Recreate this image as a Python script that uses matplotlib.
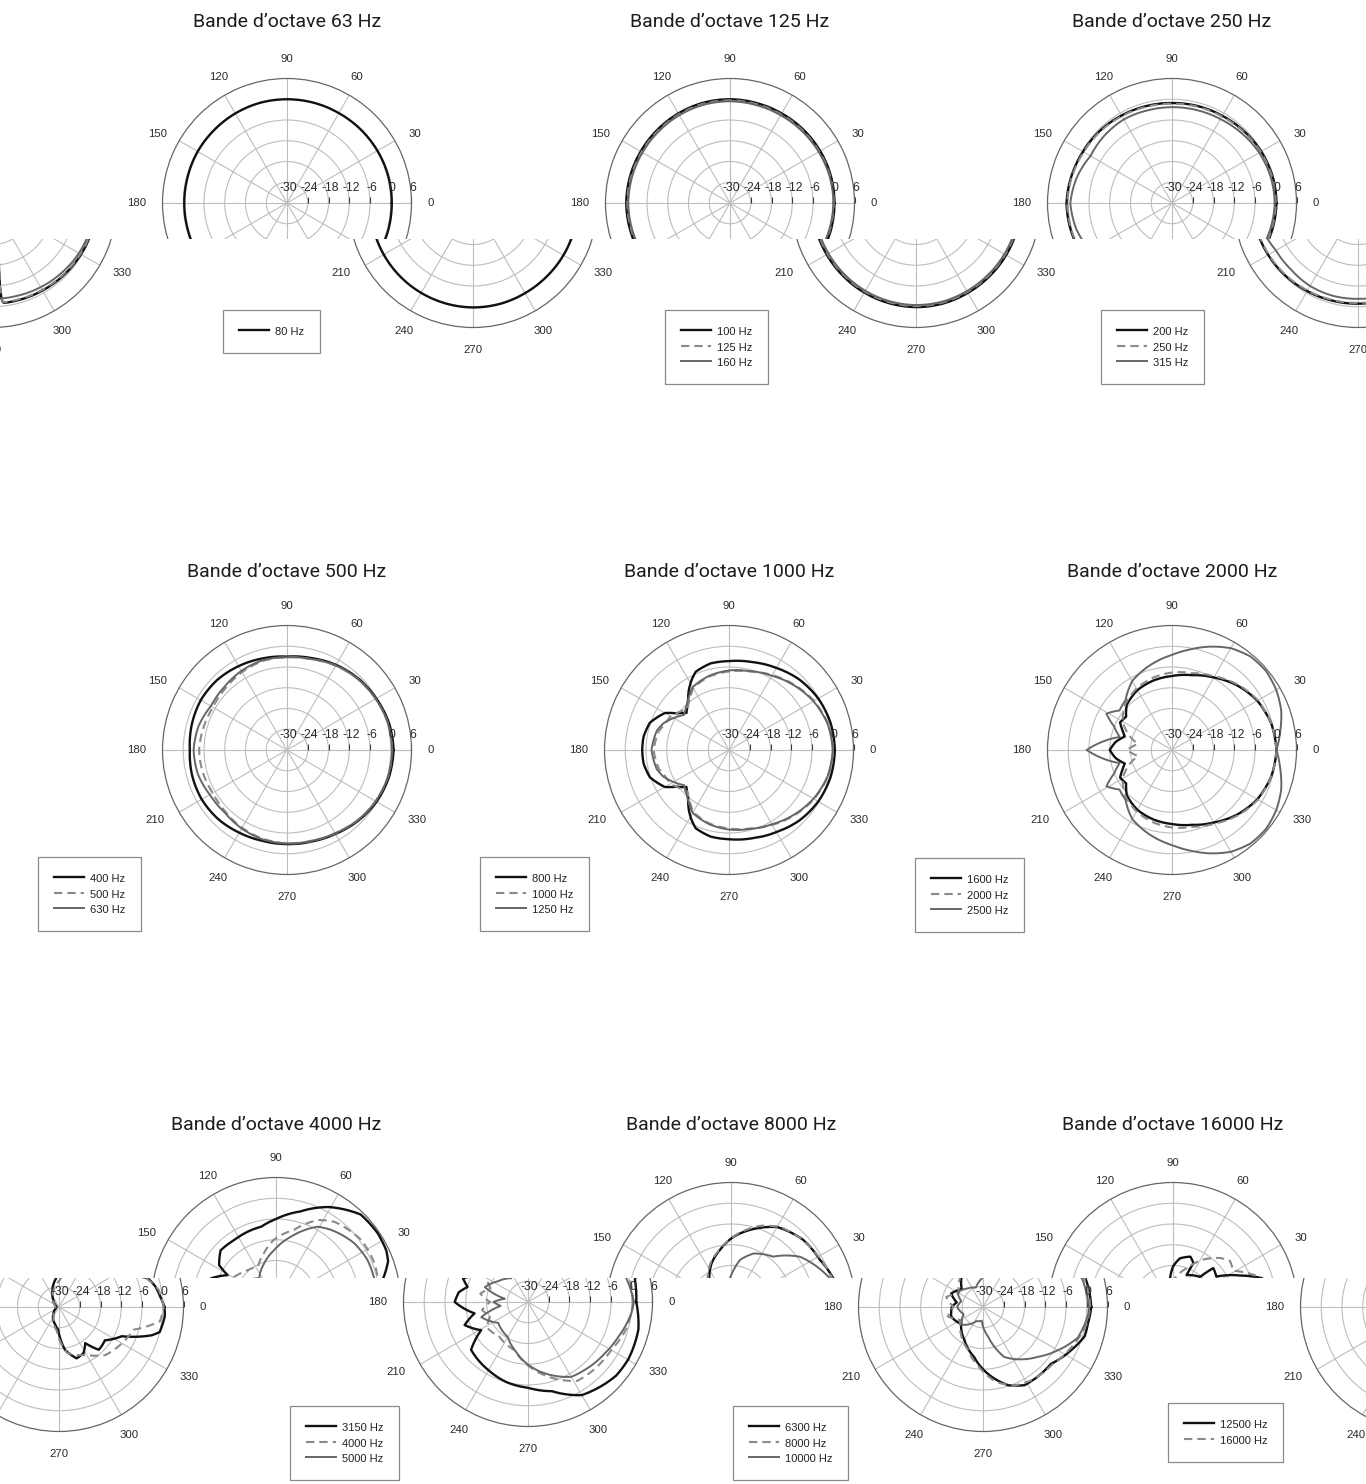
import numpy as np
import matplotlib
matplotlib.use("Agg")
import matplotlib.pyplot as plt
from matplotlib.transforms import Bbox, TransformedBbox

# ---- directivity data: angle (deg) -> level (dB) ----
ang15 = list(range(0, 361, 15))

# octave 63 Hz
f80 = [0.3, 0.3, 0.2, 0.1, 0.0, 0.0, 0.0, 0.0, -0.1, -0.2, -0.2, -0.3, -0.3,
       -0.3, -0.2, -0.1, 0.0, 0.1, 0.2, 0.2, 0.1, 0.1, 0.2, 0.3, 0.3]

# octave 125 Hz
f100 = [0.2, 0.2, 0.1, 0.0, -0.1, -0.1, 0.0, 0.0, -0.1, -0.2, -0.2, -0.1, 0.0,
        -0.1, -0.2, -0.2, -0.1, 0.0, 0.1, 0.1, 0.0, 0.0, 0.1, 0.2, 0.2]
f125 = [0.0, 0.0, -0.2, -0.3, -0.4, -0.4, -0.3, -0.3, -0.4, -0.5, -0.5, -0.4, -0.3,
        -0.4, -0.5, -0.5, -0.4, -0.3, -0.2, -0.2, -0.3, -0.3, -0.2, -0.1, 0.0]
f160 = [-0.1, -0.2, -0.4, -0.6, -0.7, -0.7, -0.6, -0.6, -0.7, -0.8, -0.8, -0.7, -0.6,
        -0.7, -0.8, -0.8, -0.7, -0.6, -0.5, -0.5, -0.6, -0.6, -0.5, -0.3, -0.1]

# octave 250 Hz
f200 = [0.2, 0.1, -0.2, -0.6, -0.9, -1.0, -1.1, -1.0, -0.8, -0.5, -0.3, 0.1, 0.5,
        0.3, 0.0, -0.3, -0.6, -0.8, -0.9, -0.9, -0.8, -0.6, -0.3, 0.0, 0.2]
f250 = [0.0, -0.1, -0.4, -0.8, -1.1, -1.2, -1.3, -1.2, -1.0, -0.7, -0.5, -0.1, 0.3,
        0.1, -0.2, -0.5, -0.8, -1.0, -1.1, -1.1, -1.0, -0.8, -0.5, -0.2, 0.0]
f315 = [-0.3, -0.5, -0.9, -1.5, -2.0, -2.2, -2.3, -2.3, -2.1, -2.4, -2.8, -1.5, -0.6,
        -1.3, -2.6, -2.7, -2.3, -2.2, -2.3, -2.2, -1.9, -1.5, -1.0, -0.6, -0.3]

# octave 500 Hz
f400 = [0.8, 0.5, -0.2, -0.8, -1.6, -2.5, -3.0, -2.6, -2.0, -1.4, -1.2, -1.5, -1.9,
        -1.6, -1.5, -1.8, -2.4, -2.8, -2.8, -2.6, -2.0, -1.0, -0.1, 0.5, 0.8]
f500 = [0.4, 0.2, -0.4, -1.0, -1.8, -2.8, -3.2, -3.3, -4.0, -4.8, -5.3, -5.0, -4.6,
        -4.8, -5.2, -4.8, -4.0, -3.4, -3.0, -2.8, -2.2, -1.2, -0.4, 0.2, 0.4]
f630 = [0.4, 0.2, -0.4, -1.0, -1.8, -2.8, -3.2, -3.1, -3.6, -4.3, -4.6, -3.5, -3.0,
        -3.3, -4.2, -4.5, -3.8, -3.2, -3.0, -2.8, -2.2, -1.2, -0.4, 0.2, 0.4]

# octave 1000 Hz
a800 = [0, 15, 30, 45, 60, 75, 90, 102, 113, 118, 124, 131, 139, 145, 150, 161, 171,
        180, 189, 199, 210, 215, 221, 229, 236, 242, 247, 258, 270, 285, 300, 315,
        330, 345, 360]
f800 = [0.6, 0.4, -0.2, -1.2, -2.6, -3.7, -4.3, -4.4, -5.4, -7.0, -9.2, -12.0, -13.7,
        -11.5, -8.6, -5.8, -5.0, -4.9, -5.0, -5.8, -8.6, -11.5, -13.7, -12.0, -9.2,
        -7.0, -5.4, -4.4, -4.2, -3.6, -2.6, -1.2, -0.2, 0.4, 0.6]
a1000 = [0, 15, 30, 45, 60, 75, 90, 105, 120, 128, 135, 142, 150, 158, 165, 180, 195,
         202, 210, 218, 225, 232, 240, 255, 270, 285, 300, 315, 330, 345, 360]
f1000 = [0.1, -0.4, -1.6, -3.3, -5.0, -6.5, -7.3, -8.0, -9.3, -11.5, -13.0, -12.0,
         -10.5, -10.0, -9.0, -8.2, -9.0, -10.0, -10.5, -12.0, -13.0, -11.5, -9.3, -8.0,
         -7.3, -6.5, -5.0, -3.3, -1.6, -0.4, 0.1]
f1250 = [0.0, -0.5, -1.8, -3.5, -5.2, -6.4, -7.0, -7.8, -9.0, -11.0, -12.5, -13.5,
         -11.5, -9.5, -8.4, -7.6, -8.4, -9.5, -11.5, -13.5, -12.5, -11.0, -9.0, -7.8,
         -7.0, -6.4, -5.2, -3.5, -1.8, -0.5, 0.0]

# octave 2000 Hz
a1600 = [0, 15, 30, 45, 60, 75, 90, 105, 120, 135, 144, 152, 158, 164, 172, 180, 188,
         196, 202, 208, 216, 225, 240, 255, 270, 285, 300, 315, 330, 345, 360]
f1600 = [0.2, -0.3, -1.5, -3.5, -5.8, -7.6, -8.6, -9.2, -10.0, -11.5, -13.6, -13.0,
         -14.5, -15.8, -13.5, -12.0, -13.5, -15.8, -14.5, -13.0, -13.6, -11.5, -10.0,
         -9.2, -8.6, -7.6, -5.8, -3.5, -1.5, -0.3, 0.2]
a2000 = [0, 15, 30, 45, 60, 75, 90, 105, 120, 135, 150, 160, 170, 180, 190, 200, 210,
         225, 240, 255, 270, 285, 300, 315, 330, 345, 360]
f2000 = [0.2, -0.3, -1.3, -3.2, -5.4, -7.0, -7.6, -8.4, -9.5, -11.0, -13.5, -16.5,
         -20.0, -17.0, -20.0, -16.5, -13.5, -11.0, -9.5, -8.4, -7.6, -7.0, -5.4, -3.2,
         -1.3, -0.3, 0.2]
a2500 = [0, 10, 20, 30, 40, 50, 60, 70, 80, 90, 100, 110, 120, 133, 143, 151, 158, 166,
         180, 194, 202, 209, 217, 227, 240, 250, 260, 270, 280, 290, 300, 310, 320, 330,
         340, 350, 360]
f2500 = [0.2, 1.8, 3.6, 4.8, 5.5, 5.3, 4.0, 1.8, -0.5, -2.5, -4.0, -5.5, -7.0, -10.3,
         -11.0, -8.3, -12.0, -14.4, -5.3, -14.4, -12.0, -8.3, -11.0, -10.3, -7.0, -5.5,
         -4.0, -2.5, -0.5, 1.8, 4.0, 5.3, 5.5, 4.8, 3.6, 1.8, 0.2]

# octave 4000 Hz
a3150 = [0, 12, 20, 25, 34, 46, 61, 75, 90, 101, 124, 137, 147, 151, 160, 166, 172,
         180, 186, 192, 200, 206, 211, 220, 240, 255, 270, 285, 300, 320, 330, 346, 360]
f3150 = [1.3, 1.6, 4.5, 5.2, 5.5, 5.2, 1.4, -2.9, -6.0, -7.8, -8.4, -8.1, -10.4, -14.0,
         -10.0, -12.0, -9.8, -8.8, -11.5, -14.2, -10.5, -12.5, -14.2, -8.5, -7.2, -6.0,
         -5.2, -3.3, 1.1, 3.2, 3.4, 2.9, 1.3]
a4000 = [0, 13, 21, 36, 54, 63, 76, 92, 104, 117, 135, 149, 160, 170, 180, 190, 200,
         212, 230, 255, 276, 302, 330, 345, 360]
f4000 = [0.4, 0.2, 0.6, 0.5, -1.3, -3.4, -8.5, -12.0, -15.5, -18.5, -17.5, -15.9, -18.5,
         -16.0, -19.0, -16.5, -18.4, -16.0, -17.0, -15.5, -10.1, -3.1, -2.2, -0.5, 0.4]
a5000 = [0, 14, 25, 37, 53, 61, 77, 92, 107, 125, 145, 161, 172, 180, 188, 198, 215,
         240, 255, 278, 300, 310, 326, 339, 354, 360]
f5000 = [0.6, -0.8, -0.9, -1.7, -3.8, -5.1, -10.6, -15.0, -18.3, -21.6, -19.5, -16.8,
         -23.2, -20.0, -22.0, -15.8, -19.5, -18.3, -15.5, -10.0, -5.0, -4.4, -3.3, -2.0,
         0.1, 0.6]

# octave 8000 Hz
a6300 = [0, 15, 28, 43, 60, 72, 88, 101, 114, 127, 140, 157, 170, 180, 197, 218, 241,
         260, 277, 288, 298, 320, 334, 344, 351, 360]
f6300 = [1.3, 0.8, -0.9, -1.5, -3.3, -6.1, -9.7, -13.2, -16.2, -19.6, -22.0, -20.0,
         -22.3, -21.0, -20.4, -22.0, -19.0, -15.3, -9.7, -6.2, -4.4, -4.4, -1.6, 0.6,
         0.7, 1.3]
a8000 = [0, 15, 30, 45, 58, 70, 85, 100, 115, 130, 150, 165, 180, 195, 210, 230, 250,
         265, 280, 292, 305, 320, 335, 350, 360]
f8000 = [1.0, 0.5, -0.8, -1.8, -2.8, -5.0, -8.8, -12.8, -16.0, -19.5, -22.0, -19.0,
         -21.5, -19.5, -22.5, -20.0, -17.0, -13.0, -8.0, -5.5, -4.5, -4.0, -2.0, 0.3, 1.0]
a10000 = [0, 16, 36, 50, 67, 79, 86, 92, 110, 130, 150, 165, 180, 200, 220, 245, 265,
          280, 293, 299, 318, 330, 342, 356, 360]
f10000 = [0.6, -0.2, -5.3, -11.0, -13.2, -16.1, -19.3, -21.7, -24.0, -23.0, -21.5, -23.5,
          -22.5, -24.0, -22.0, -25.5, -26.0, -21.2, -14.3, -12.9, -8.5, -5.0, -1.2, 0.5,
          0.6]

# octave 16000 Hz
a12500 = [0, 6, 12, 18, 25, 35, 44, 48, 67, 65, 71, 82, 90, 96, 105, 115, 130, 150, 170,
          180, 190, 210, 230, 245, 258, 268, 278, 289, 298, 306, 313, 318, 324, 335, 343,
          346, 355, 360]
f12500 = [0.5, -0.6, -1.5, -3.0, -8.5, -14.7, -13.8, -18.3, -20.0, -16.0, -14.6, -15.8,
          -18.3, -21.7, -23.5, -25.5, -27.5, -28.8, -29.3, -29.3, -29.2, -28.8, -27.5,
          -26.0, -24.8, -23.4, -17.5, -14.3, -14.9, -17.1, -13.1, -13.3, -13.6, -10.0,
          -2.0, 0.0, 0.7, 0.5]
a16000 = [0, 10, 20, 31, 39, 46, 57, 70, 90, 120, 150, 180, 210, 240, 265, 280, 300,
          314, 330, 343, 352, 360]
f16000 = [0.3, -0.8, -4.0, -9.7, -8.8, -10.3, -13.6, -18.0, -22.5, -26.5, -28.5, -29.0,
          -28.5, -27.0, -23.0, -16.5, -14.0, -10.7, -9.0, -7.5, -0.5, 0.3]

titles = ["Bande d\u2019octave 63 Hz", "Bande d\u2019octave 125 Hz", "Bande d\u2019octave 250 Hz",
          "Bande d\u2019octave 500 Hz", "Bande d\u2019octave 1000 Hz", "Bande d\u2019octave 2000 Hz",
          "Bande d\u2019octave 4000 Hz", "Bande d\u2019octave 8000 Hz", "Bande d\u2019octave 16000 Hz"]

theta_ticks = list(range(0, 360, 30))
rings = [-24, -18, -12, -6, 0]
r_labels = [-30, -24, -18, -12, -6, 0, 6]

# ---- styles ----
BLACK = dict(color='#111111', lw=1.7, ls='-')
DASH = dict(color='#8a8a8a', lw=1.5, ls=(0, (4, 2.4)))
GREY = dict(color='#666666', lw=1.4, ls='-')

series = [
    [("80 Hz", ang15, f80, BLACK)],
    [("100 Hz", ang15, f100, BLACK), ("125 Hz", ang15, f125, DASH), ("160 Hz", ang15, f160, GREY)],
    [("200 Hz", ang15, f200, BLACK), ("250 Hz", ang15, f250, DASH), ("315 Hz", ang15, f315, GREY)],
    [("400 Hz", ang15, f400, BLACK), ("500 Hz", ang15, f500, DASH), ("630 Hz", ang15, f630, GREY)],
    [("800 Hz", a800, f800, BLACK), ("1000 Hz", a1000, f1000, DASH), ("1250 Hz", a1000, f1250, GREY)],
    [("1600 Hz", a1600, f1600, BLACK), ("2000 Hz", a2000, f2000, DASH), ("2500 Hz", a2500, f2500, GREY)],
    [("3150 Hz", a3150, f3150, BLACK), ("4000 Hz", a4000, f4000, DASH), ("5000 Hz", a5000, f5000, GREY)],
    [("6300 Hz", a6300, f6300, BLACK), ("8000 Hz", a8000, f8000, DASH), ("10000 Hz", a10000, f10000, GREY)],
    [("12500 Hz", a12500, f12500, BLACK), ("16000 Hz", a16000, f16000, DASH)],
]

# ---- layout (pixels, y from top) ----
W, H = 1366, 1484
R = 124.5
centers = [(287, 203), (730, 203), (1172, 203),
           (287, 750), (729, 750), (1172, 750),
           (276, 1302), (731, 1307), (1173, 1307)]
title_y = [22, 22, 22, 572, 572, 572, 1125, 1125, 1125]
legend_xy = [(37, 310), (479, 310), (915, 310),
             (38, 857), (480, 857), (915, 858),
             (38, 1406), (481, 1406), (916, 1403)]
# angle label offset from the outer ring (px, right / down)
theta_off = {0: (18.8, 0), 30: (20.5, -7), 60: (7.7, -17.9), 90: (0, -19.8),
             120: (-6.5, -18), 150: (-22, -7), 180: (-25.5, 0), 210: (-24, 7.7),
             240: (-7, 20.5), 270: (0, 22.8), 300: (7.7, 20.5), 330: (22, 8)}
# rows 1 and 3: the strip below `cut` is offset sideways and wraps round
row_strip = [dict(cut=239, shift=186, top=0, bottom=560),
             None,
             dict(cut=1278, shift=252, top=1090, bottom=H)]

plt.rcParams['font.family'] = ['Liberation Sans', 'DejaVu Sans']
TITLE_FONT = ['Roboto', 'DejaVu Sans']

fig = plt.figure(figsize=(W / 100, H / 100), dpi=100)
fig.patch.set_facecolor('white')


def px_box(ya, yb):
    return TransformedBbox(Bbox.from_extents(0, 1 - yb / H, 1, 1 - ya / H),
                           fig.transFigure)


def polar_panel(cx, cy, curves):
    ax = fig.add_axes([(cx - R) / W, 1 - (cy + R) / H, 2 * R / W, 2 * R / H],
                      projection='polar')
    ax.set_facecolor('none')
    ax.set_ylim(-30, 6)
    ax.set_yticks(rings)
    ax.set_yticklabels([])
    ax.set_xticks(np.deg2rad(theta_ticks))
    ax.set_xticklabels([])
    ax.set_axisbelow(True)
    ax.grid(True, color='#bdbdbd', lw=0.8)
    ax.spines['polar'].set_color('#666666')
    ax.spines['polar'].set_linewidth(0.9)
    ax.tick_params(axis='x', direction='out', length=5.8, width=0.9,
                   color='#444444', pad=0)
    ax.tick_params(axis='y', length=0)

    lines = []
    for label, deg, db, style in curves:
        ln, = ax.plot(np.deg2rad(deg), db, label=label, zorder=3, **style)
        # draw each segment along the polar grid rather than as a chord
        ln.get_path()._interpolation_steps = 12
        lines.append(ln)

    # dB scale along the 0 deg spoke
    ax.plot(np.zeros(len(r_labels) - 1), r_labels[1:], ls='none', marker=2,
            ms=4.2, mew=0.8, color='#3a3a3a', clip_on=False, zorder=2)
    for v in r_labels:
        ax.annotate(str(v), xy=(0, v), xytext=(1.2, 10.5), textcoords='offset points',
                    ha='center', va='center', fontsize=8.8, color='#2a2a2a',
                    annotation_clip=False)
    # angle labels outside the ring
    for a in theta_ticks:
        dx, dy = theta_off[a]
        ax.annotate(str(a), xy=(np.deg2rad(a), 6), xytext=(dx * 0.72, -dy * 0.72),
                    textcoords='offset points', ha='center', va='center',
                    fontsize=8.2, color='#2a2a2a', annotation_clip=False)
    return ax, lines


def add_legend(ax, lines, lx, ly):
    leg = ax.legend(handles=lines, loc='upper left', bbox_to_anchor=(lx / W, 1 - ly / H),
                    bbox_transform=fig.transFigure, borderaxespad=0, frameon=True,
                    fancybox=False, edgecolor='#8a8a8a', framealpha=1, fontsize=8,
                    handlelength=2.7, handleheight=1.3, handletextpad=0.6,
                    labelspacing=0.3, borderpad=1.4)
    leg.get_frame().set_linewidth(0.9)
    for txt in leg.get_texts():
        txt.set_color('#222222')


clips = []
for i in range(9):
    cx, cy = centers[i]
    lx, ly = legend_xy[i]
    fig.text(cx / W, 1 - title_y[i] / H, titles[i], ha='center', va='center',
             fontsize=14, color='#1c1c1c', family=TITLE_FONT)
    strip = row_strip[i // 3]
    if strip is None:
        ax, lines = polar_panel(cx, cy, series[i])
        add_legend(ax, lines, lx, ly)
        continue
    s = strip['shift']
    ax_top, _ = polar_panel(cx, cy, series[i])
    clips.append((ax_top, px_box(strip['top'], strip['cut'])))
    ax_low, lines = polar_panel(cx + s, cy, series[i])
    add_legend(ax_low, lines, lx + s, ly)
    clips.append((ax_low, px_box(strip['cut'], strip['bottom'])))
    if cx + s + 180 > W:
        ax_wrap, _ = polar_panel(cx + s - W, cy, series[i])
        clips.append((ax_wrap, px_box(strip['cut'], strip['bottom'])))

# ticks are created on the first draw; clip every piece afterwards
fig.canvas.draw()
for ax, bb in clips:
    for art in ax.findobj():
        if art is ax:
            continue
        if not art.get_clip_on():
            art.set_clip_path(None)
            art.set_clip_on(True)
        art.set_clip_box(bb)

fig.savefig('out.png', dpi=100, facecolor='white')
